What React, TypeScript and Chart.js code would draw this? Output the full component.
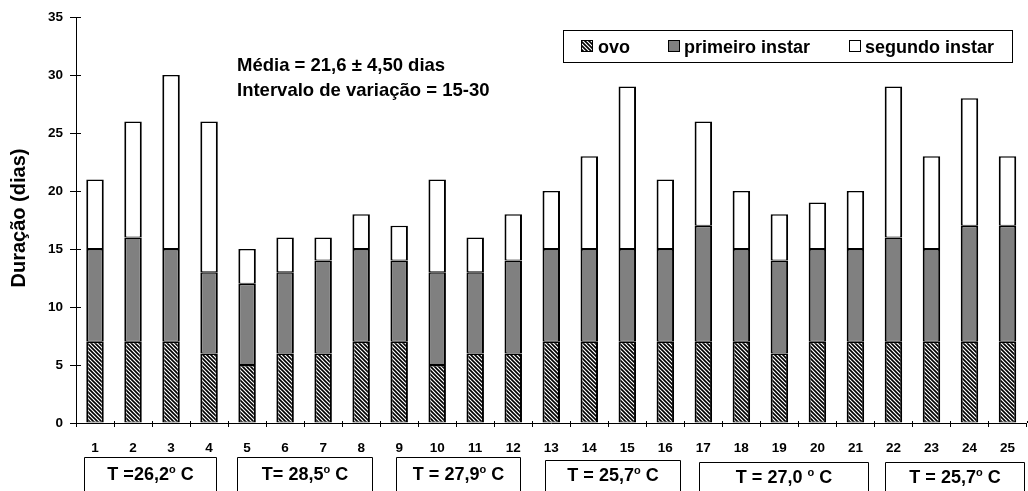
import React, { useEffect, useRef } from 'react';
import { Chart, registerables } from 'chart.js';

Chart.register(...registerables);

const categories = ['1','2','3','4','5','6','7','8','9','10','11','12','13','14','15','16','17','18','19','20','21','22','23','24','25'];
const ovo = [7,7,7,6,5,6,6,7,7,5,6,6,7,7,7,7,7,7,6,7,7,7,7,7,7];
const primeiroInstar = [8,9,8,7,7,7,8,8,7,8,7,8,8,8,8,8,10,8,8,8,8,9,8,10,10];
const segundoInstar = [6,10,15,13,3,3,2,3,3,8,3,4,5,8,14,6,9,5,4,4,5,13,8,11,6];

const seriesNames = ['ovo', 'primeiro instar', 'segundo instar'];
const yTicks = [0, 5, 10, 15, 20, 25, 30, 35];

// temperature groups: first & last category index (0-based) and label
const groupStart = [0, 4, 8, 12, 16, 21];
const groupEnd = [3, 7, 11, 15, 20, 24];
const groupLabels = ['T =26,2° C', 'T= 28,5° C', 'T = 27,9° C', 'T = 25,7° C', 'T = 27,0 ° C', 'T = 25,7° C'];
// box layout (px offsets from first/last bar centre, top y, text baseline)
const boxLeftOff = [-11.5, -10, -2.7, -6.3, -4, -8.6];
const boxRightOff = [7, 10.5, 7, 15, 12.5, 17];
const boxTop = [457, 457, 457, 460, 462, 462];
const boxBaseline = [480, 480, 480, 481, 483, 483];

const annotationLines = ['Média = 21,6 ± 4,50 dias', 'Intervalo de variação = 15-30'];
const yTitle = 'Duração (dias)';

const FONT = '"Liberation Sans", Arial, Helvetica, sans-serif';
const GREY = '#808080';

function makeHatch(ctx: CanvasRenderingContext2D): CanvasPattern {
  const c = document.createElement('canvas');
  c.width = 4;
  c.height = 4;
  const g = c.getContext('2d')!;
  g.fillStyle = '#ffffff';
  g.fillRect(0, 0, 4, 4);
  g.strokeStyle = '#000000';
  g.lineWidth = 1.6;
  g.beginPath();
  g.moveTo(-1, -1); g.lineTo(5, 5);
  g.moveTo(-1, 3); g.lineTo(1, 5);
  g.moveTo(3, -1); g.lineTo(5, 1);
  g.stroke();
  return ctx.createPattern(c, 'repeat')!;
}

export default function App() {
  const canvasRef = useRef<HTMLCanvasElement | null>(null);

  useEffect(() => {
    const canvas = canvasRef.current!;
    const ctx = canvas.getContext('2d')!;
    const hatch = makeHatch(ctx);

    const extras = {
      id: 'extras',
      afterDraw(chart: any) {
        const c: CanvasRenderingContext2D = chart.ctx;
        const xs = chart.scales.x;
        const ys = chart.scales.y;
        const area = chart.chartArea;
        c.save();
        c.strokeStyle = '#000';
        c.lineWidth = 1;
        // inner parts of tick marks
        c.beginPath();
        for (const v of yTicks) {
          const py = Math.round(ys.getPixelForValue(v)) + 0.5;
          c.moveTo(area.left, py);
          c.lineTo(area.left + 5, py);
        }
        for (let i = 1; i <= categories.length; i++) {
          const px = Math.round(xs.getPixelForValue(i - 0.5)) + 0.5;
          c.moveTo(px, area.bottom);
          c.lineTo(px, area.bottom - 2);
        }
        c.stroke();

        // y title
        c.save();
        c.translate(19, 218);
        c.rotate(-Math.PI / 2);
        c.fillStyle = '#000';
        c.font = `bold 20px ${FONT}`;
        c.textAlign = 'center';
        c.textBaseline = 'middle';
        c.fillText(yTitle, 0, 0);
        c.restore();

        // annotation
        c.fillStyle = '#000';
        c.font = `bold 18.5px ${FONT}`;
        c.textAlign = 'left';
        c.textBaseline = 'alphabetic';
        c.fillText(annotationLines[0], 237, 71);
        c.fillText(annotationLines[1], 237, 96);

        // legend
        c.strokeRect(563.5, 30.5, 449, 32);
        const swX = [581, 668, 849];
        const txX = [598, 684, 865];
        const fills: any[] = [hatch, GREY, '#ffffff'];
        c.font = `bold 18px ${FONT}`;
        for (let i = 0; i < 3; i++) {
          c.fillStyle = fills[i];
          c.fillRect(swX[i], 40, 12, 12);
          c.strokeRect(swX[i] + 0.5, 40.5, 11, 11);
          c.fillStyle = '#000';
          c.fillText(seriesNames[i], txX[i], 53);
        }

        // temperature boxes
        for (let k = 0; k < groupLabels.length; k++) {
          const l = Math.round(xs.getPixelForValue(groupStart[k]) + boxLeftOff[k]) + 0.5;
          const r = Math.round(xs.getPixelForValue(groupEnd[k]) + boxRightOff[k]) + 0.5;
          const t = boxTop[k] + 0.5;
          c.beginPath();
          c.moveTo(l, chart.height + 2);
          c.lineTo(l, t);
          c.lineTo(r, t);
          c.lineTo(r, chart.height + 2);
          c.stroke();
          const [before, after] = groupLabels[k].split('°');
          c.font = `bold 18px ${FONT}`;
          const w1 = c.measureText(before).width;
          const w3 = c.measureText(after).width;
          c.font = `bold 11px ${FONT}`;
          const w2 = c.measureText('o').width;
          const total = w1 + w2 + w3;
          const x0 = (l + r) / 2 - total / 2;
          const by = boxBaseline[k];
          c.fillStyle = '#000';
          c.font = `bold 18px ${FONT}`;
          c.fillText(before, x0, by);
          c.font = `bold 11px ${FONT}`;
          c.fillText('o', x0 + w1, by - 7);
          c.font = `bold 18px ${FONT}`;
          c.fillText(after, x0 + w1 + w2, by);
        }
        c.restore();
      },
    };

    const barCommon = {
      borderColor: '#000000',
      borderWidth: { left: 2, right: 2, top: 1.5, bottom: 1 },
      borderSkipped: false as const,
      barPercentage: 0.46,
      categoryPercentage: 1,
    };

    const chart = new Chart(canvas, {
      type: 'bar',
      data: {
        labels: categories,
        datasets: [
          { label: seriesNames[0], data: ovo, backgroundColor: hatch as any, ...barCommon },
          { label: seriesNames[1], data: primeiroInstar, backgroundColor: GREY, ...barCommon },
          { label: seriesNames[2], data: segundoInstar, backgroundColor: '#ffffff', ...barCommon },
        ],
      },
      options: {
        animation: false,
        responsive: false,
        events: [],
        layout: { padding: { top: 17, right: 0, left: 0, bottom: 0 } },
        plugins: {
          legend: { display: false },
          tooltip: { enabled: false },
          title: { display: false },
        },
        scales: {
          x: {
            stacked: true,
            grid: {
              display: true,
              drawOnChartArea: false,
              drawTicks: true,
              tickLength: 4,
              tickColor: '#000',
              offset: true,
            },
            border: { display: true, color: '#000', width: 1 },
            ticks: {
              color: '#000',
              font: { family: FONT, size: 13.5, weight: 'bold' },
              padding: 13,
              maxRotation: 0,
              autoSkip: false,
            },
            afterFit: (s: any) => { s.height = 68; },
          },
          y: {
            stacked: true,
            min: 0,
            max: 35,
            grid: {
              display: true,
              drawOnChartArea: false,
              drawTicks: true,
              tickLength: 6,
              tickColor: '#000',
            },
            border: { display: true, color: '#000', width: 1 },
            ticks: {
              stepSize: 5,
              color: '#000',
              font: { family: FONT, size: 13.5, weight: 'bold' },
              padding: 7,
            },
            afterFit: (s: any) => { s.width = 76; },
          },
        },
      },
      plugins: [extras],
    });

    return () => chart.destroy();
  }, []);

  return (
    <div style={{ position: 'absolute', left: 0, top: 0, width: 1028, height: 491, background: '#fff', overflow: 'hidden' }}>
      <canvas ref={canvasRef} width={1028} height={491} style={{ display: 'block' }} />
    </div>
  );
}
